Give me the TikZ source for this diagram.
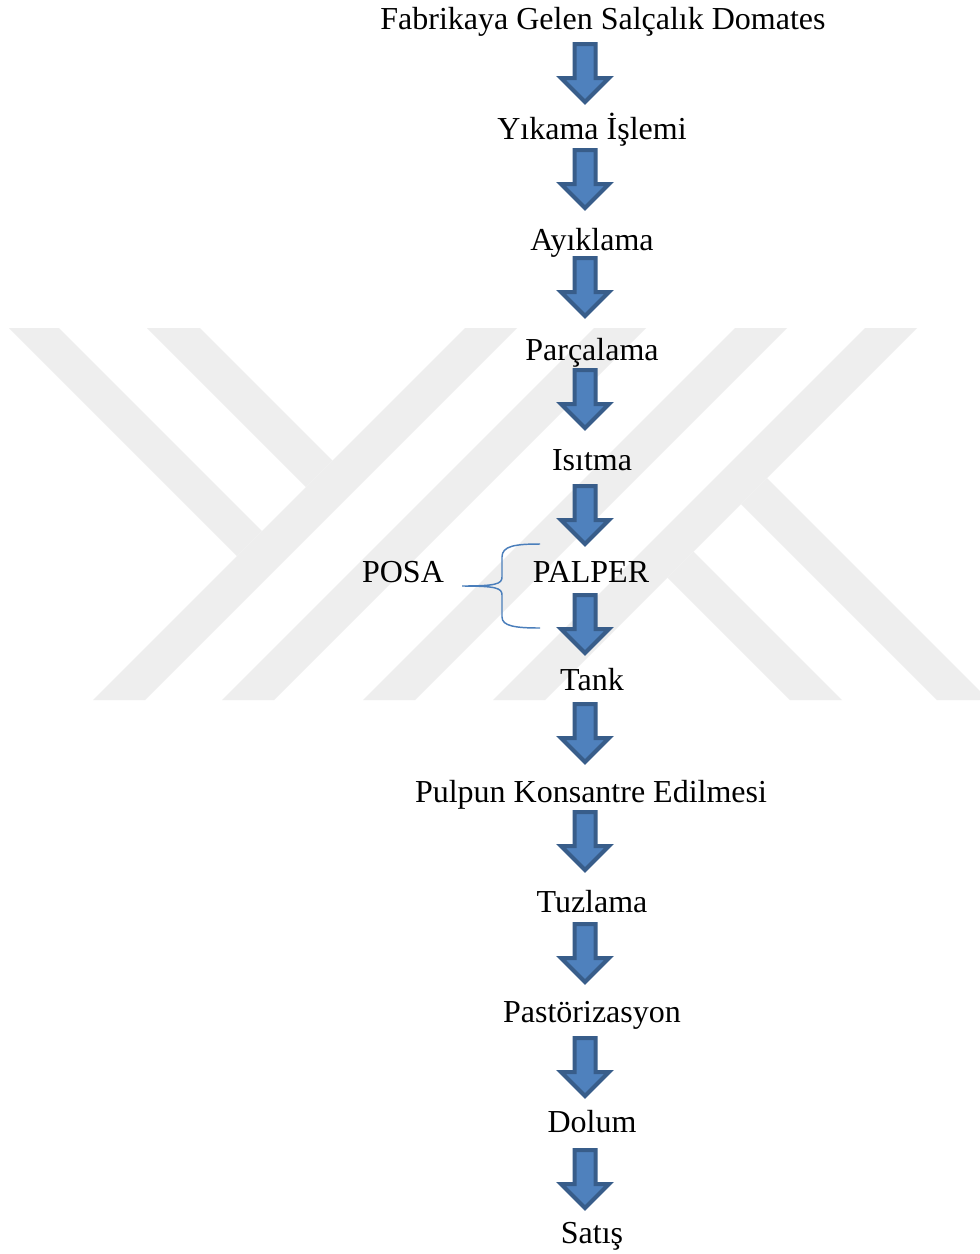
\documentclass[tikz,border=0pt]{standalone}
\usepackage{fontspec}
\setmainfont{Liberation Serif}
\definecolor{wm}{RGB}{238,238,238}
\definecolor{arrowfill}{RGB}{79,129,189}
\definecolor{arrowline}{RGB}{56,93,138}
\definecolor{bracecol}{RGB}{74,126,187}
\tikzset{
  lbl/.style={anchor=base, inner sep=0pt, font=\fontsize{24}{28}\selectfont, text=black},
  wmark/.style={fill=wm, draw=none},
  bracestyle/.style={draw=bracecol, line width=1.1pt},
  downarrow/.pic={
    \filldraw[fill=arrowfill, draw=arrowline, line width=3pt, line join=miter, miter limit=10]
      (-10.5,2) -- (10.5,2) -- (10.5,36) -- (24,36) -- (0,60) -- (-24,36) -- (-10.5,36) -- cycle;
  }
}
\begin{document}
\begin{tikzpicture}[x=0.75pt, y=-0.75pt]
\useasboundingbox (0,0) rectangle (979,1254);
\fill[white] (0,0) rectangle (979,1254);
% watermark
\fill[wmark] (465,328) -- (517,328) -- (145,700) -- (93,700) -- cycle;
\fill[wmark] (594,328) -- (646,328) -- (274,700) -- (222,700) -- cycle;
\fill[wmark] (735,328) -- (787,328) -- (415,700) -- (363,700) -- cycle;
\fill[wmark] (865,328) -- (917,328) -- (545,700) -- (493,700) -- cycle;
\fill[wmark] (9,328) -- (59,328) -- (262,531) -- (237,556) -- cycle;
\fill[wmark] (147,328) -- (200,328) -- (332.5,460.5) -- (306,487) -- cycle;
\fill[wmark] (667.5,577.5) -- (693.5,551.5) -- (842,700) -- (790,700) -- cycle;
\fill[wmark] (741,504) -- (767,478) -- (989,700) -- (937,700) -- cycle;
% labels
\node[lbl] (t0) at (603,29) {Fabrikaya Gelen Salçalık Domates};
\node[lbl] (t1) at (592,139) {Yıkama İşlemi};
\node[lbl] (t2) at (592,250) {Ayıklama};
\node[lbl] (t3) at (592,360) {Parçalama};
\node[lbl] (t4) at (592,470) {Isıtma};
\node[lbl] (t5) at (591,582) {PALPER};
\node[lbl] (t6) at (592,690) {Tank};
\node[lbl] (t7) at (591,802) {Pulpun Konsantre Edilmesi};
\node[lbl] (t8) at (592,912) {Tuzlama};
\node[lbl] (t9) at (592,1022) {Pastörizasyon};
\node[lbl] (t10) at (592,1132) {Dolum};
\node[lbl] (t11) at (592,1243) {Satış};
\node[lbl] (posa) at (403,582) {POSA};
% arrows
\foreach \yy in {42,148,256,368,484,593,702,810,922,1036,1148}
  \pic at (585,\yy) {downarrow};
% brace
\coordinate (btop) at (540,544);
\coordinate (btip) at (462,586);
\coordinate (bbot) at (540,628);
\draw[bracestyle] (btop) .. controls (515,544) and (502,546) .. (502,557)
  -- (502,577) .. controls (502,584) and (496,586) .. (btip)
  .. controls (496,586) and (502,588) .. (502,595)
  -- (502,617) .. controls (502,626) and (515,628) .. (bbot);
\end{tikzpicture}
\end{document}
